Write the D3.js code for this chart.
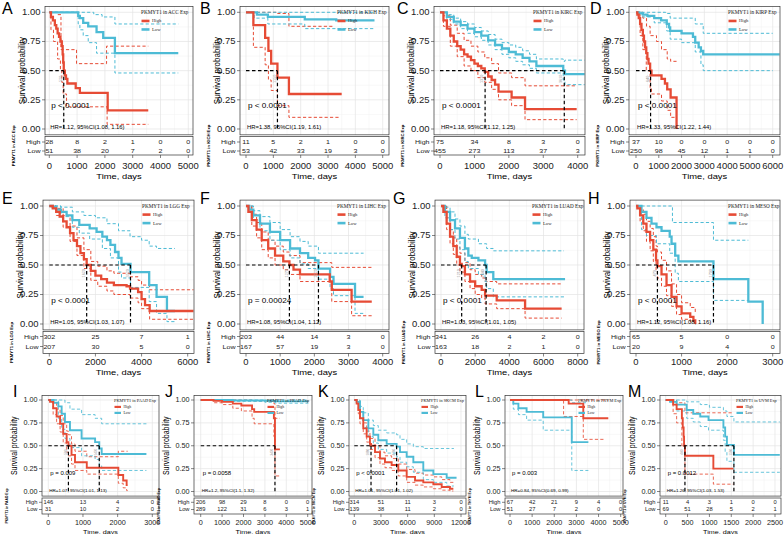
<!DOCTYPE html>
<html><head><meta charset="utf-8">
<script src="https://cdn.jsdelivr.net/npm/d3@7"></script>
<style>body{margin:0;background:#fff}</style>
</head><body>
<script>
// ---------------- DATA ----------------
// ACC
const ACC_ticks=[0,1000,2000,3000,4000,5000];
const ACC_riskHigh=[28,8,2,1,0,0], ACC_riskLow=[51,38,20,7,2,0];
const ACC_high=[[0,1],[60,0.96],[130,0.93],[200,0.89],[250,0.86],[300,0.82],[350,0.79],[400,0.75],[450,0.71],[480,0.64],[500,0.57],[520,0.5],[560,0.46],[600,0.43],[650,0.39],[950,0.35],[1100,0.31],[2100,0.16],[3560,0.16]];
const ACC_highUp=[[0,1],[300,0.98],[420,0.68],[980,0.56],[2060,0.71],[3560,0.71]];
const ACC_highLo=[[0,1],[60,0.85],[150,0.75],[300,0.6],[400,0.5],[450,0.4],[500,0.3],[620,0.19],[2080,0.04],[3560,0.04]];
const ACC_low=[[0,1],[1040,0.97],[1100,0.95],[1220,0.91],[1400,0.88],[1700,0.83],[1940,0.78],[2360,0.65],[4640,0.65]];
const ACC_lowUp=[[0,1],[1600,0.98],[1900,0.96],[2360,0.9],[4640,0.9]];
const ACC_lowLo=[[0,1],[1040,0.9],[1100,0.85],[1220,0.8],[1400,0.74],[1700,0.65],[2360,0.48],[4640,0.48]];
const ACC_med=[520];
// KICH
const KICH_ticks=[0,1000,2000,3000,4000,5000];
const KICH_riskHigh=[11,5,2,1,0,0], KICH_riskLow=[53,42,33,19,3,0];
const KICH_high=[[0,1],[270,0.89],[700,0.78],[820,0.67],[920,0.56],[1150,0.44],[1570,0.3],[3500,0.3]];
const KICH_highUp=[[0,1],[1150,0.99],[1570,0.88],[3200,0.88]];
const KICH_highLo=[[0,1],[270,0.7],[700,0.55],[820,0.42],[920,0.33],[1150,0.2],[1570,0.1],[3400,0.1]];
const KICH_low=[[0,1],[400,0.98],[800,0.96],[2150,0.94],[3300,0.93],[4700,0.93]];
const KICH_lowUp=[[0,1],[4700,1]];
const KICH_lowLo=[[0,1],[300,0.95],[800,0.9],[2150,0.86],[4700,0.86]];
const KICH_med=[1150];
// KIRC
const KIRC_ticks=[0,1000,2000,3000,4000];
const KIRC_riskHigh=[75,34,8,3,0], KIRC_riskLow=[455,273,113,37,3];
const KIRC_high=[[0,1],[100,0.93],[200,0.86],[300,0.8],[400,0.75],[500,0.71],[600,0.68],[700,0.64],[800,0.62],[900,0.59],[1000,0.56],[1100,0.54],[1200,0.52],[1300,0.49],[1400,0.45],[1500,0.42],[1600,0.38],[1700,0.32],[2080,0.27],[2470,0.17],[3970,0.17]];
const KIRC_highUp=[[0,1],[100,0.97],[300,0.89],[500,0.82],[700,0.76],[900,0.71],[1100,0.66],[1300,0.61],[1500,0.56],[1700,0.48],[2080,0.44],[2470,0.37],[3970,0.37]];
const KIRC_highLo=[[0,1],[100,0.88],[300,0.71],[500,0.62],[700,0.54],[900,0.5],[1100,0.44],[1300,0.4],[1500,0.34],[1700,0.25],[2080,0.2],[2470,0.08],[3970,0.08]];
const KIRC_low=[[0,1],[200,0.96],[400,0.92],[600,0.89],[800,0.86],[1000,0.83],[1200,0.8],[1400,0.76],[1600,0.72],[1800,0.69],[2000,0.66],[2200,0.64],[2400,0.61],[2600,0.58],[2800,0.54],[3580,0.5],[3630,0.47],[4200,0.47]];
const KIRC_lowUp=[[0,1],[200,0.98],[400,0.95],[600,0.92],[800,0.9],[1000,0.87],[1200,0.84],[1400,0.81],[1600,0.77],[1800,0.74],[2000,0.72],[2200,0.7],[2400,0.67],[2600,0.64],[2800,0.6],[3580,0.58],[3630,0.59],[4200,0.59]];
const KIRC_lowLo=[[0,1],[200,0.94],[400,0.9],[600,0.86],[800,0.82],[1000,0.79],[1200,0.76],[1400,0.72],[1600,0.68],[1800,0.64],[2000,0.61],[2200,0.58],[2400,0.55],[2600,0.52],[2800,0.48],[3580,0.42],[3630,0.38],[4200,0.38]];
const KIRC_med=[1310,3610];
// KIRP
const KIRP_ticks=[0,1000,2000,3000,4000,5000,6000];
const KIRP_riskHigh=[37,10,0,0,0,0,0], KIRP_riskLow=[250,98,45,12,1,1,0];
const KIRP_high=[[0,1],[60,0.98],[120,0.95],[180,0.9],[240,0.85],[300,0.8],[350,0.75],[400,0.7],[450,0.65],[500,0.6],[550,0.56],[620,0.5],[680,0.46],[1120,0.43],[1270,0.39],[1370,0.34],[1520,0.27],[1780,0]];
const KIRP_highUp=[[0,1],[300,0.95],[460,0.88],[620,0.8],[900,0.75],[1120,0.68],[1370,0.6],[1520,0.58],[1780,0.58]];
const KIRP_highLo=[[0,1],[180,0.8],[300,0.68],[450,0.5],[620,0.35],[680,0.3],[1120,0.24],[1370,0.16],[1520,0.1],[1780,0]];
const KIRP_low=[[0,1],[150,0.99],[300,0.98],[500,0.97],[800,0.95],[1100,0.93],[1350,0.9],[1450,0.87],[1500,0.84],[2000,0.82],[2500,0.79],[2600,0.74],[2750,0.7],[2850,0.67],[2950,0.64],[6300,0.64]];
const KIRP_lowUp=[[0,1],[1300,0.99],[1500,0.95],[2600,0.9],[2950,0.82],[6000,0.82]];
const KIRP_lowLo=[[0,1],[300,0.96],[800,0.91],[1350,0.84],[1500,0.77],[2000,0.74],[2600,0.66],[2850,0.55],[2950,0.5],[6000,0.5]];
const KIRP_med=[640];
// LGG
const LGG_ticks=[0,2000,4000,6000];
const LGG_riskHigh=[302,25,7,1], LGG_riskLow=[207,30,5,0];
const LGG_high=[[0,1],[150,0.98],[300,0.95],[450,0.91],[600,0.87],[750,0.82],[900,0.77],[1050,0.71],[1200,0.66],[1350,0.6],[1500,0.55],[1620,0.5],[1800,0.45],[2000,0.41],[2250,0.38],[2500,0.35],[2800,0.33],[3350,0.32],[3500,0.3],[3850,0.27],[4000,0.21],[4150,0.16],[4350,0.11],[6250,0.11]];
const LGG_highUp=[[0,1],[300,0.98],[600,0.92],[900,0.83],[1200,0.73],[1500,0.63],[1800,0.53],[2100,0.49],[2500,0.45],[2800,0.43],[3500,0.4],[3850,0.37],[4000,0.33],[4350,0.29],[6250,0.29]];
const LGG_highLo=[[0,1],[300,0.92],[600,0.82],[900,0.7],[1200,0.58],[1500,0.47],[1800,0.37],[2100,0.32],[2500,0.28],[2800,0.25],[3500,0.22],[3850,0.18],[4000,0.13],[4350,0.04],[6250,0.04]];
const LGG_low=[[0,1],[150,0.99],[300,0.97],[500,0.95],[750,0.92],[1000,0.88],[1300,0.84],[1750,0.81],[2050,0.78],[2300,0.74],[2500,0.71],[2650,0.67],[2850,0.61],[3000,0.56],[3130,0.51],[3520,0.44],[4330,0.33],[4650,0.23],[5100,0.11],[5450,0.11]];
const LGG_lowUp=[[0,1],[500,0.99],[1000,0.95],[1500,0.92],[2000,0.9],[2500,0.85],[3000,0.79],[3500,0.74],[4000,0.71],[4330,0.66],[4650,0.64],[5450,0.64]];
const LGG_lowLo=[[0,1],[500,0.91],[1000,0.82],[1300,0.77],[1750,0.72],[2300,0.64],[2650,0.56],[3000,0.44],[3130,0.39],[3520,0.31],[4330,0.19],[4650,0.09],[5100,0.02],[5450,0.02]];
const LGG_med=[1620,3520];
// LIHC
const LIHC_ticks=[0,1000,2000,3000,4000];
const LIHC_riskHigh=[203,44,14,3,0], LIHC_riskLow=[167,57,19,3,0];
const LIHC_high=[[0,1],[70,0.95],[170,0.88],[310,0.8],[460,0.71],[650,0.64],[850,0.58],[1090,0.53],[1270,0.5],[1390,0.46],[1580,0.42],[2450,0.36],[2510,0.29],[3090,0.19],[3680,0.19]];
const LIHC_highUp=[[0,1],[170,0.93],[310,0.86],[460,0.78],[650,0.71],[850,0.66],[1090,0.61],[1270,0.58],[1580,0.52],[2510,0.48],[3680,0.48]];
const LIHC_highLo=[[0,1],[170,0.83],[310,0.73],[460,0.63],[650,0.56],[850,0.5],[1090,0.46],[1270,0.42],[1580,0.36],[2510,0.19],[3090,0.07],[3680,0.07]];
const LIHC_low=[[0,1],[100,0.97],[215,0.92],[410,0.85],[700,0.78],[1000,0.71],[1290,0.64],[1580,0.6],[1820,0.56],[2020,0.54],[2120,0.47],[2460,0.4],[2560,0.34],[3190,0.23],[3440,0.23]];
const LIHC_lowUp=[[0,1],[215,0.96],[410,0.91],[700,0.86],[1000,0.8],[1290,0.74],[1580,0.7],[1820,0.66],[2120,0.6],[3440,0.6]];
const LIHC_lowLo=[[0,1],[215,0.88],[410,0.79],[700,0.71],[1000,0.63],[1290,0.56],[1580,0.51],[1820,0.47],[2120,0.38],[2460,0.3],[2560,0.24],[3190,0.09],[3440,0.09]];
const LIHC_med=[1270,2120];
// LUAD
const LUAD_ticks=[0,2000,4000,6000,8000];
const LUAD_riskHigh=[341,26,4,2,0], LUAD_riskLow=[163,18,2,1,0];
const LUAD_high=[[0,1],[140,0.95],[330,0.85],[530,0.74],[720,0.66],[920,0.57],[1110,0.51],[1210,0.49],[1400,0.42],[1700,0.36],[2000,0.32],[2380,0.29],[2580,0.24],[3260,0.2],[4920,0.13],[7060,0.13]];
const LUAD_highUp=[[0,1],[330,0.9],[530,0.8],[720,0.73],[920,0.65],[1110,0.6],[1400,0.52],[1700,0.46],[2000,0.42],[2380,0.39],[2580,0.36],[3260,0.34],[7060,0.34]];
const LUAD_highLo=[[0,1],[330,0.8],[530,0.68],[720,0.59],[920,0.5],[1110,0.44],[1400,0.36],[1700,0.3],[2000,0.25],[2380,0.22],[2580,0.17],[3260,0.13],[4920,0.05],[7060,0.05]];
const LUAD_low=[[0,1],[230,0.95],[530,0.88],[820,0.81],[1110,0.73],[1400,0.64],[1600,0.58],[1800,0.56],[2190,0.54],[2580,0.5],[2670,0.44],[3060,0.38],[7260,0.38]];
const LUAD_lowUp=[[0,1],[230,0.99],[530,0.95],[820,0.89],[1110,0.83],[1400,0.76],[1600,0.72],[2190,0.68],[2670,0.64],[3060,0.62],[7200,0.62]];
const LUAD_lowLo=[[0,1],[230,0.9],[530,0.8],[820,0.72],[1110,0.63],[1400,0.53],[1600,0.47],[2190,0.42],[2580,0.36],[2670,0.3],[3060,0.23],[7200,0.23]];
const LUAD_med=[1210,2640];
// MESO
const MESO_ticks=[0,1000,2000,3000];
const MESO_riskHigh=[65,5,0,0], MESO_riskLow=[20,9,4,0];
const MESO_high=[[0,1],[30,0.98],[90,0.92],[160,0.85],[230,0.78],[310,0.71],[380,0.63],[440,0.54],[470,0.49],[560,0.42],[670,0.33],[780,0.23],[890,0.15],[1000,0.09],[1190,0.06],[1260,0.03],[1300,0]];
const MESO_highUp=[[0,1],[90,0.97],[160,0.93],[230,0.87],[310,0.81],[380,0.74],[440,0.66],[470,0.61],[560,0.54],[670,0.45],[780,0.34],[890,0.25],[1000,0.18],[1190,0.14],[1300,0.1]];
const MESO_highLo=[[0,1],[90,0.87],[160,0.79],[230,0.7],[310,0.62],[380,0.53],[440,0.45],[470,0.39],[560,0.32],[670,0.24],[780,0.15],[890,0.08],[1000,0.04],[1190,0.02],[1300,0]];
const MESO_low=[[0,1],[120,0.95],[230,0.9],[340,0.85],[450,0.82],[560,0.79],[740,0.74],[780,0.68],[860,0.58],[930,0.53],[1700,0.38],[2465,0.19],[2780,0]];
const MESO_lowUp=[[0,1],[560,1],[800,0.86],[1700,0.71],[2465,0.71]];
const MESO_lowLo=[[0,1],[120,0.8],[230,0.75],[450,0.68],[740,0.6],[860,0.43],[930,0.36],[1700,0.2],[2465,0.2]];
const MESO_med=[470,1700];
// PAAD
const PAAD_ticks=[0,1000,2000,3000];
const PAAD_riskHigh=[146,13,4,0], PAAD_riskLow=[31,10,2,0];
const PAAD_high=[[0,1],[50,0.98],[140,0.91],[240,0.82],[340,0.74],[430,0.63],[530,0.54],[580,0.5],[670,0.4],[770,0.32],[1110,0.26],[2020,0.18],[2160,0.12],[2260,0.07],[2290,0.07]];
const PAAD_highUp=[[0,1],[140,0.97],[240,0.9],[340,0.83],[430,0.74],[530,0.66],[580,0.62],[670,0.52],[770,0.44],[1110,0.38],[2020,0.44],[2290,0.44]];
const PAAD_highLo=[[0,1],[140,0.84],[240,0.74],[340,0.65],[430,0.53],[530,0.43],[580,0.39],[670,0.3],[770,0.23],[1110,0.19],[2020,0.09],[2160,0.04],[2260,0.01],[2290,0.01]];
const PAAD_low=[[0,1],[150,0.97],[290,0.93],[385,0.85],[480,0.76],[625,0.67],[960,0.58],[1350,0.54],[1470,0.47],[1540,0.41],[2830,0.41]];
const PAAD_lowUp=[[0,1],[480,0.97],[625,0.9],[960,0.84],[1350,0.8],[1540,0.74],[2830,0.74]];
const PAAD_lowLo=[[0,1],[290,0.8],[385,0.68],[480,0.58],[625,0.48],[960,0.39],[1350,0.35],[1470,0.28],[1540,0.23],[2830,0.23]];
const PAAD_med=[580,1470];
// PRAD
const PRAD_ticks=[0,1000,2000,3000,4000,5000];
const PRAD_riskHigh=[206,98,29,8,0,0], PRAD_riskLow=[289,122,31,6,3,1];
const PRAD_high=[[0,1],[600,0.99],[1000,0.98],[1500,0.96],[1900,0.94],[2400,0.9],[2500,0.87],[3420,0.8],[3470,0.46],[3700,0.46]];
const PRAD_highUp=[[0,1],[2400,0.99],[3420,0.96],[3470,0.8],[3700,0.8]];
const PRAD_highLo=[[0,1],[600,0.97],[1000,0.95],[1500,0.91],[1900,0.88],[2400,0.8],[2500,0.74],[3420,0.6],[3470,0.17],[3700,0.17]];
const PRAD_low=[[0,1],[1500,0.995],[3000,0.99],[3500,0.985],[5030,0.985]];
const PRAD_lowUp=[[0,1],[5030,1]];
const PRAD_lowLo=[[0,1],[1500,0.985],[3000,0.975],[3500,0.965],[5030,0.965]];
const PRAD_med=[3470];
// SKCM
const SKCM_ticks=[0,3000,6000,9000,12000];
const SKCM_riskHigh=[314,51,11,3,0], SKCM_riskLow=[139,38,11,2,0];
const SKCM_high=[[0,1],[260,0.96],[450,0.89],[640,0.8],[1010,0.69],[1390,0.6],[1760,0.52],[1880,0.5],[2330,0.43],[2890,0.36],[3450,0.32],[4200,0.29],[4950,0.23],[5890,0.16],[6830,0.12],[7760,0.1],[8890,0.08],[9830,0.05],[10760,0.03],[11140,0.03]];
const SKCM_highUp=[[0,1],[450,0.93],[640,0.86],[1010,0.75],[1390,0.66],[1760,0.58],[2330,0.5],[2890,0.43],[3450,0.39],[4200,0.36],[4950,0.3],[5890,0.24],[6830,0.2],[7760,0.18],[8890,0.16],[9830,0.13],[10760,0.1],[11140,0.1]];
const SKCM_highLo=[[0,1],[450,0.85],[640,0.74],[1010,0.63],[1390,0.54],[1760,0.46],[2330,0.37],[2890,0.3],[3450,0.26],[4200,0.23],[4950,0.17],[5890,0.1],[6830,0.07],[7760,0.05],[8890,0.03],[9830,0.015],[10760,0.005],[11140,0.005]];
const SKCM_low=[[0,1],[260,0.98],[640,0.87],[1010,0.78],[1580,0.69],[2140,0.62],[2700,0.56],[3640,0.52],[4760,0.49],[5140,0.43],[5890,0.38],[6640,0.32],[7760,0.23],[8890,0.19],[10390,0.15],[11500,0.15]];
const SKCM_lowUp=[[0,1],[640,0.93],[1010,0.86],[1580,0.78],[2140,0.72],[2700,0.67],[3640,0.64],[4760,0.62],[5140,0.57],[5890,0.52],[6640,0.49],[7760,0.47],[11200,0.47]];
const SKCM_lowLo=[[0,1],[640,0.8],[1010,0.7],[1580,0.6],[2140,0.53],[2700,0.46],[3640,0.42],[4760,0.38],[5140,0.32],[5890,0.27],[6640,0.21],[7760,0.13],[8890,0.1],[10390,0.06],[11200,0.06]];
const SKCM_med=[1880,4760];
// THYM
const THYM_ticks=[0,1000,2000,3000,4000,5000];
const THYM_riskHigh=[67,42,21,9,4,0], THYM_riskLow=[51,27,7,2,0,0];
const THYM_high=[[0,1],[2650,0.96],[3310,0.8],[4440,0.8]];
const THYM_highUp=[[0,1],[4440,1]];
const THYM_highLo=[[0,1],[2420,0.82],[3310,0.57],[4300,0.57]];
const THYM_low=[[0,1],[150,0.96],[380,0.91],[750,0.87],[1500,0.81],[2790,0.54],[3540,0.54]];
const THYM_lowUp=[[0,1],[2790,0.97],[3540,0.97]];
const THYM_lowLo=[[0,1],[150,0.9],[380,0.84],[750,0.78],[1500,0.67],[2790,0.23],[3540,0.23]];
const THYM_med=[];
// UVM
const UVM_ticks=[0,500,1000,1500,2000,2500];
const UVM_riskHigh=[11,4,3,1,0,0], UVM_riskLow=[69,51,28,5,2,1];
const UVM_high=[[0,1],[170,0.95],[250,0.9],[370,0.8],[390,0.7],[410,0.6],[420,0.5],[440,0.39],[1090,0.25],[1550,0.25]];
const UVM_highUp=[[0,1],[250,0.97],[440,0.86],[1550,0.86]];
const UVM_highLo=[[0,1],[170,0.85],[250,0.75],[370,0.5],[440,0.19],[1090,0.08],[1550,0.08]];
const UVM_low=[[0,1],[100,0.98],[250,0.95],[480,0.89],[630,0.85],[790,0.82],[980,0.78],[1320,0.7],[1360,0.6],[1400,0.51],[1560,0.4],[2610,0.4]];
const UVM_lowUp=[[0,1],[480,0.98],[790,0.95],[1000,0.92],[1320,0.88],[1400,0.82],[1560,0.76],[2610,0.76]];
const UVM_lowLo=[[0,1],[250,0.88],[480,0.8],[630,0.76],[790,0.71],[980,0.67],[1320,0.56],[1360,0.43],[1400,0.33],[1560,0.21],[2610,0.21]];
const UVM_med=[440,1560];

const yTicks=[0,0.25,0.5,0.75,1];
const groupNames=["High","Low"];

// ---------------- LAYOUT ----------------
const RED="#E64B35", BLUE="#4DBBD5";
const SANS="'Liberation Sans', Arial, Helvetica, sans-serif";
const SERIF="'Liberation Serif', 'Times New Roman', serif";
const rows=[
 {y0:129,y1:12.3,tTop:136.5,tBot:155,hY:142,lY:151,tickY:166,titleY:176.5,letY:13.5,
  f:{tick:8.6,title:7.8,ylab:8,risk:5.9,p:6.8,hr:4.9,leg:5.2,rlab:4.2,med:3.8},
  leg:{dx:52,ty:6,hy:14.5,ly:23,sw:8},ylabDx:23,rlabDx:32,lw:2.3,ciw:1},
 {y0:324,y1:206,tTop:331.5,tBot:353.5,hY:336.5,lY:346.5,tickY:362,titleY:372.5,letY:204,
  f:{tick:8.6,title:7.8,ylab:8,risk:5.9,p:6.8,hr:4.9,leg:5.2,rlab:4.2,med:3.8},
  leg:{dx:52,ty:6,hy:14.5,ly:23,sw:8},ylabDx:23,rlabDx:32,lw:2.3,ciw:1},
 {y0:491.5,y1:400,tTop:498,tBot:514,hY:502.3,lY:509.5,tickY:523,titleY:531.3,letY:397,
  f:{tick:6.6,title:6,ylab:7,risk:4.8,p:5,hr:3.8,leg:4.3,rlab:3.4,med:3.1},
  leg:{dx:45,ty:4.8,hy:11.5,ly:17.5,sw:6.5},ylabDx:28,rlabDx:35,lw:1.9,ciw:0.85}
];
const TICK_SX=1.1;
function P(letter,code,row,lx,box,t0,tL,extra){return Object.assign({letter,code,row,lx,box,t0,tL},extra);}
const panels=[
 P('A','ACC',0,2,[45,193],49.3,188.3,{ticks:ACC_ticks,c:[ACC_high,ACC_highLo,ACC_highUp,ACC_low,ACC_lowLo,ACC_lowUp],risk:[ACC_riskHigh,ACC_riskLow],med:ACC_med,p:"p < 0.0001",hr:"HR=1.12, 95%CI(1.08, 1.16)"}),
 P('B','KICH',0,200,[240,389],246,382.7,{ticks:KICH_ticks,c:[KICH_high,KICH_highLo,KICH_highUp,KICH_low,KICH_lowLo,KICH_lowUp],risk:[KICH_riskHigh,KICH_riskLow],med:KICH_med,p:"p < 0.0001",hr:"HR=1.38, 95%CI(1.19, 1.61)"}),
 P('C','KIRC',0,397,[434,585],440,577.7,{ticks:KIRC_ticks,c:[KIRC_high,KIRC_highLo,KIRC_highUp,KIRC_low,KIRC_lowLo,KIRC_lowUp],risk:[KIRC_riskHigh,KIRC_riskLow],med:KIRC_med,p:"p < 0.0001",hr:"HR=1.18, 95%CI(1.12, 1.25)"}),
 P('D','KIRP',0,590,[629,780],636,772.7,{ticks:KIRP_ticks,c:[KIRP_high,KIRP_highLo,KIRP_highUp,KIRP_low,KIRP_lowLo,KIRP_lowUp],risk:[KIRP_riskHigh,KIRP_riskLow],med:KIRP_med,p:"p < 0.0001",hr:"HR=1.33, 95%CI(1.22, 1.44)"}),
 P('E','LGG',1,2,[43,194],49.3,187.7,{ticks:LGG_ticks,c:[LGG_high,LGG_highLo,LGG_highUp,LGG_low,LGG_lowLo,LGG_lowUp],risk:[LGG_riskHigh,LGG_riskLow],med:LGG_med,p:"p < 0.0001",hr:"HR=1.05, 95%CI(1.03, 1.07)"}),
 P('F','LIHC',1,200,[240,389],246,382.7,{ticks:LIHC_ticks,c:[LIHC_high,LIHC_highLo,LIHC_highUp,LIHC_low,LIHC_lowLo,LIHC_lowUp],risk:[LIHC_riskHigh,LIHC_riskLow],med:LIHC_med,p:"p = 0.00024",hr:"HR=1.08, 95%CI(1.04, 1.12)"}),
 P('G','LUAD',1,393,[435,584],441,577.7,{ticks:LUAD_ticks,c:[LUAD_high,LUAD_highLo,LUAD_highUp,LUAD_low,LUAD_lowLo,LUAD_lowUp],risk:[LUAD_riskHigh,LUAD_riskLow],med:LUAD_med,p:"p < 0.0001",hr:"HR=1.03, 95%CI(1.01, 1.05)"}),
 P('H','MESO',1,588,[630,780],636,772.7,{ticks:MESO_ticks,c:[MESO_high,MESO_highLo,MESO_highUp,MESO_low,MESO_lowLo,MESO_lowUp],risk:[MESO_riskHigh,MESO_riskLow],med:MESO_med,p:"p < 0.0001",hr:"HR=1.12, 95%CI(1.08, 1.16)"}),
 P('I','PAAD',2,13,[42,159],48.3,152.3,{ticks:PAAD_ticks,c:[PAAD_high,PAAD_highLo,PAAD_highUp,PAAD_low,PAAD_lowLo,PAAD_lowUp],risk:[PAAD_riskHigh,PAAD_riskLow],med:PAAD_med,p:"p = 0.009",hr:"HR=1.07, 95%CI(1.01, 1.13)"}),
 P('J','PRAD',2,165,[194,312],200.7,307.7,{ticks:PRAD_ticks,c:[PRAD_high,PRAD_highLo,PRAD_highUp,PRAD_low,PRAD_lowLo,PRAD_lowUp],risk:[PRAD_riskHigh,PRAD_riskLow],med:PRAD_med,p:"p = 0.0058",hr:"HR=1.2, 95%CI(1.1, 1.32)"}),
 P('K','SKCM',2,318,[349,466],354.3,461,{ticks:SKCM_ticks,c:[SKCM_high,SKCM_highLo,SKCM_highUp,SKCM_low,SKCM_lowLo,SKCM_lowUp],risk:[SKCM_riskHigh,SKCM_riskLow],med:SKCM_med,p:"p < 0.0001",hr:"HR=1.01, 95%CI(1.01, 1.02)"}),
 P('L','THYM',2,475,[505,623],510,620.7,{ticks:THYM_ticks,c:[THYM_high,THYM_highLo,THYM_highUp,THYM_low,THYM_lowLo,THYM_lowUp],risk:[THYM_riskHigh,THYM_riskLow],med:THYM_med,p:"p = 0.003",hr:"HR=0.84, 95%CI(0.69, 0.99)"}),
 P('M','UVM',2,628,[660,781],665.7,775,{ticks:UVM_ticks,c:[UVM_high,UVM_highLo,UVM_highUp,UVM_low,UVM_lowLo,UVM_lowUp],risk:[UVM_riskHigh,UVM_riskLow],med:UVM_med,p:"p = 0.0012",hr:"HR=1.26, 95%CI(1.03, 1.53)"})
];

// ---------------- DRAW ----------------
const svg=d3.select('body').append('svg').attr('width',784).attr('height',534).style('display','block');
function txt(g,x,y,s,o){
  const sx=o.sx==null?1.2:o.sx;
  let tr=`translate(${x},${y}) scale(${sx},1)`; if(o.rot) tr+=` rotate(${o.rot})`;
  return g.append('text').attr('transform',tr).attr('font-size',o.size).attr('font-family',o.family||SANS)
    .attr('font-weight',o.weight||'normal').attr('text-anchor',o.anchor||'start')
    .attr('dominant-baseline',o.base||'central').attr('fill',o.fill||'#000').text(s);
}
panels.forEach((p,pi)=>{
  const R=rows[p.row];
  const g=svg.append('g');
  const last=p.ticks[p.ticks.length-1];
  const x=d3.scaleLinear().domain([0,last]).range([p.t0,p.tL]);
  const y=d3.scaleLinear().domain([0,1]).range([R.y0,R.y1]);
  const L=p.box[0], Rt=p.box[1], T=y(1.05), B=y(-0.05);
  const step=p.ticks[1]-p.ticks[0];
  // grid
  const gg=g.append('g');
  const minorX=[]; for(let v=-step/2; x(v)<=Rt; v+=step){ if(x(v)>=L) minorX.push(v); }
  const minorY=[0.125,0.375,0.625,0.875];
  gg.selectAll('.mx').data(minorX).join('line').attr('x1',d=>x(d)).attr('x2',d=>x(d)).attr('y1',T).attr('y2',B).attr('stroke','#F1F1F1').attr('stroke-width',0.5);
  gg.selectAll('.my').data(minorY).join('line').attr('x1',L).attr('x2',Rt).attr('y1',d=>y(d)).attr('y2',d=>y(d)).attr('stroke','#F1F1F1').attr('stroke-width',0.5);
  gg.selectAll('.Mx').data(p.ticks).join('line').attr('x1',d=>x(d)).attr('x2',d=>x(d)).attr('y1',T).attr('y2',B).attr('stroke','#E4E4E4').attr('stroke-width',0.7);
  gg.selectAll('.My').data(yTicks).join('line').attr('x1',L).attr('x2',Rt).attr('y1',d=>y(d)).attr('y2',d=>y(d)).attr('stroke','#E4E4E4').attr('stroke-width',0.7);
  // clip
  const cid='clip'+pi;
  svg.append('clipPath').attr('id',cid).append('rect').attr('x',L).attr('y',T).attr('width',Rt-L).attr('height',B-T);
  const cg=g.append('g').attr('clip-path',`url(#${cid})`);
  const line=d3.line().x(d=>x(d[0])).y(d=>y(d[1])).curve(d3.curveStepAfter);
  const cols=[RED,RED,RED,BLUE,BLUE,BLUE];
  // CI
  [1,2,4,5].forEach(i=>{
    cg.append('path').attr('d',line(p.c[i])).attr('fill','none').attr('stroke',cols[i]).attr('stroke-width',R.ciw).attr('stroke-dasharray','3.2,2.2');
  });
  [3,0].forEach(i=>{
    cg.append('path').attr('d',line(p.c[i])).attr('fill','none').attr('stroke',cols[i]).attr('stroke-width',R.lw).attr('stroke-linejoin','miter');
  });
  // medians
  if(p.med.length){
    const mx=d3.max(p.med);
    cg.append('line').attr('x1',x(0)).attr('x2',x(mx)).attr('y1',y(0.5)).attr('y2',y(0.5)).attr('stroke','#000').attr('stroke-width',1.2).attr('stroke-dasharray','3.5,2.5');
    p.med.forEach(m=>{
      cg.append('line').attr('x1',x(m)).attr('x2',x(m)).attr('y1',y(0.5)).attr('y2',y(0)).attr('stroke','#000').attr('stroke-width',1.2).attr('stroke-dasharray','3.5,2.5');
      txt(g,x(m)-2.8,y(0.43),String(m),{size:R.f.med,rot:-90,anchor:'middle',fill:'#9a9a9a',sx:1});
    });
  }
  // p & HR
  txt(g,x(0)+2,y(0.2),p.p,{size:R.f.p});
  txt(g,x(0)+1,y(0.012),p.hr,{size:R.f.hr});
  // legend
  const lx=Rt-R.leg.dx, ty=T+R.leg.ty;
  txt(g,lx,ty,`PKMYT1 in ${p.code} Exp`,{size:R.f.leg,family:SERIF,sx:1,fill:'#222'});
  [[RED,R.leg.hy],[BLUE,R.leg.ly]].forEach((d,i)=>{
    g.append('line').attr('x1',lx+0.5).attr('x2',lx+0.5+R.leg.sw).attr('y1',T+d[1]).attr('y2',T+d[1]).attr('stroke',d[0]).attr('stroke-width',R.lw+0.3);
    txt(g,lx+R.leg.sw+3,T+d[1],groupNames[i],{size:R.f.leg*0.9,family:SERIF,sx:1,fill:'#222'});
  });
  // box
  g.append('rect').attr('x',L).attr('y',T).attr('width',Rt-L).attr('height',B-T).attr('fill','none').attr('stroke','#333').attr('stroke-width',0.7);
  // y axis
  yTicks.forEach(v=>{
    g.append('line').attr('x1',L-3).attr('x2',L).attr('y1',y(v)).attr('y2',y(v)).attr('stroke','#333').attr('stroke-width',0.6);
    txt(g,L-4.5,y(v),d3.format('.2f')(v),{size:R.f.tick,anchor:'end',fill:'#222',sx:TICK_SX});
  });
  txt(g,L-R.ylabDx,(T+B)/2,'Survival probability',{size:R.f.ylab,rot:-90,anchor:'middle'});
  // risk table
  g.append('rect').attr('x',L).attr('y',R.tTop).attr('width',Rt-L).attr('height',R.tBot-R.tTop).attr('fill','none').attr('stroke','#333').attr('stroke-width',0.7);
  [[p.risk[0],R.hY],[p.risk[1],R.lY]].forEach((d,i)=>{
    g.append('line').attr('x1',L-3).attr('x2',L).attr('y1',d[1]).attr('y2',d[1]).attr('stroke','#333').attr('stroke-width',0.6);
    txt(g,L-4.5,d[1],groupNames[i],{size:R.f.risk,anchor:'end',fill:'#222'});
    d[0].forEach((n,j)=>txt(g,x(p.ticks[j]),d[1],String(n),{size:R.f.risk,anchor:'middle',fill:'#222'}));
  });
  txt(g,L-R.rlabDx,(R.tTop+R.tBot)/2,`PKMYT1 in ${p.code} Exp`,{size:R.f.rlab,rot:-90,anchor:'middle',weight:'bold',sx:1});
  // x axis
  p.ticks.forEach(v=>{
    g.append('line').attr('x1',x(v)).attr('x2',x(v)).attr('y1',R.tBot).attr('y2',R.tBot+3).attr('stroke','#333').attr('stroke-width',0.6);
    txt(g,x(v),R.tickY,String(v),{size:R.f.tick,anchor:'middle',fill:'#222',sx:TICK_SX});
  });
  txt(g,(L+Rt)/2,R.titleY,'Time, days',{size:R.f.title,anchor:'middle'});
  // panel letter
  txt(svg,p.lx,R.letY,p.letter,{size:16,sx:1,base:'alphabetic'});
});
</script>
</body></html>
